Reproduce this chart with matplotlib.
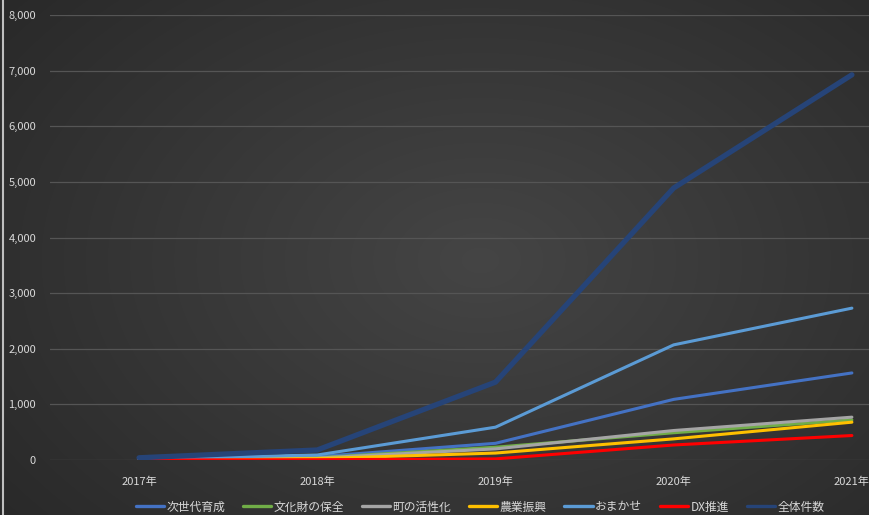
import numpy as np
import matplotlib.pyplot as plt

plt.rcParams['font.family'] = ['Noto Sans CJK JP', 'DejaVu Sans']

years = ['2017年', '2018年', '2019年', '2020年', '2021年']

jisedai = [15, 60, 300, 1090, 1565]
bunkazai = [10, 40, 230, 490, 720]
machi = [10, 35, 200, 530, 770]
nogyo = [5, 25, 125, 380, 680]
omakase = [20, 90, 590, 2070, 2730]
dx = [0, 5, 20, 270, 440]
zentai = [40, 180, 1400, 4890, 6925]

series = [
    ('次世代育成', jisedai, '#4472C4', 2.2),
    ('文化財の保全', bunkazai, '#70AD47', 2.2),
    ('町の活性化', machi, '#A5A5A5', 2.2),
    ('農業振興', nogyo, '#FFC000', 2.2),
    ('おまかせ', omakase, '#5B9BD5', 2.2),
    ('DX推進', dx, '#FF0000', 2.2),
    ('全体件数', zentai, '#264478', 3.8),
]

fig = plt.figure(figsize=(8.7, 5.15), dpi=100)

# radial gradient background
bg = fig.add_axes([0, 0, 1, 1])
yy, xx = np.mgrid[0:515, 0:870]
r = np.sqrt(((xx - 480) / 620.0) ** 2 + ((yy - 260) / 420.0) ** 2)
shade = np.clip(0.27 - 0.11 * r, 0.15, 0.27)
bg.imshow(np.dstack([shade] * 3), aspect='auto', extent=[0, 1, 0, 1])
bg.axis('off')
bg.axvline(0.003, color='#bfbfbf', lw=1.5)

ax = fig.add_axes([50 / 870, 55 / 515, 891 / 870, 445 / 515])
ax.set_facecolor('none')
x = np.arange(len(years))
for name, vals, color, lw in series:
    ax.plot(x, vals, color=color, lw=lw, label=name, solid_capstyle='round')

ax.set_xlim(-0.5, 4.5)
ax.set_ylim(0, 8000)
ax.set_yticks(range(0, 8001, 1000))
ax.set_yticklabels([f'{v:,}' for v in range(0, 8001, 1000)])
ax.set_xticks(x)
ax.set_xticklabels(years)
ax.grid(axis='y', color='#555555', lw=0.9)
ax.set_axisbelow(True)
for s in ax.spines.values():
    s.set_visible(False)
ax.tick_params(length=0, colors='#d9d9d9', labelsize=8)
ax.tick_params(axis='x', pad=12)
ax.tick_params(axis='y', pad=10)

leg = fig.legend(loc='center', bbox_to_anchor=(480 / 870, 8 / 515), ncol=7,
                 frameon=False, fontsize=8.5, labelcolor='#d9d9d9',
                 handlelength=2.4, handletextpad=0.2, columnspacing=1.5)
for h in leg.get_lines():
    h.set_linewidth(2.4)

fig.savefig('out.png', dpi=100)
